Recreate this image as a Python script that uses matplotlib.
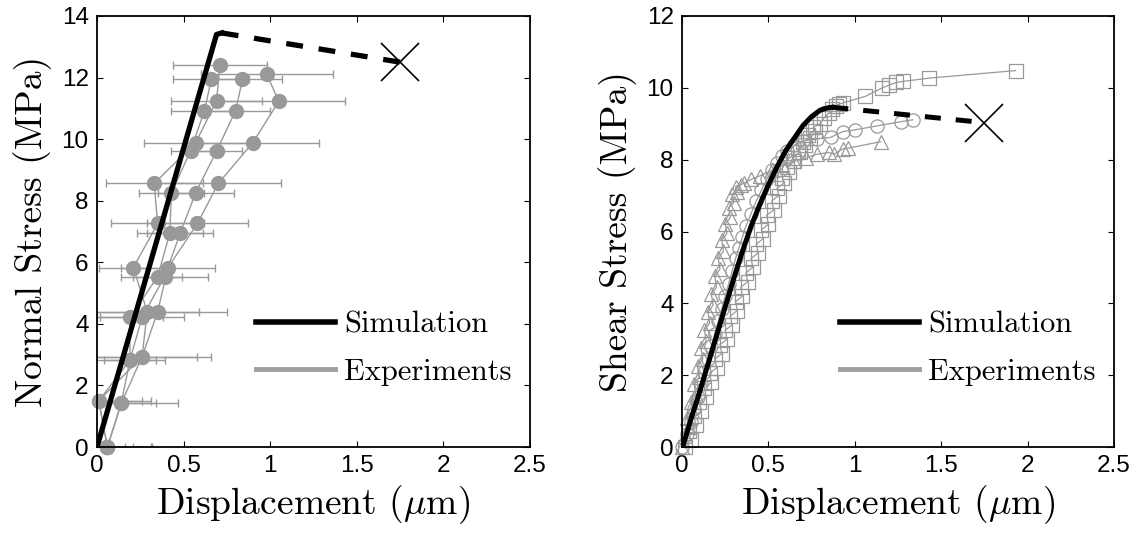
import matplotlib
matplotlib.use("Agg")
import matplotlib.pyplot as plt
from matplotlib.lines import Line2D

# ---------------- data ----------------
# Left panel: normal loading, four specimens (displacement um, stress MPa, half-width of error bar um)
nA_s = [0.00, 1.50, 2.93, 4.39, 5.83, 7.26, 8.56, 9.89, 11.24, 12.40]
nA_d = [0.06, 0.01, 0.26, 0.29, 0.21, 0.35, 0.33, 0.57, 0.69, 0.71]
nA_e = [0.25, 0.30, 0.32, 0.30, 0.20, 0.27, 0.28, 0.30, 0.26, 0.27]

nB_s = [0.00, 1.42, 2.93, 4.39, 5.83, 7.26, 8.56, 9.89, 11.23, 12.10]
nB_d = [0.06, 0.14, 0.26, 0.35, 0.41, 0.58, 0.70, 0.90, 1.05, 0.98]
nB_e = [0.26, 0.33, 0.40, 0.40, 0.27, 0.29, 0.36, 0.38, 0.38, 0.38]

nC_s = [0.00, 1.42, 2.82, 4.21, 5.53, 6.94, 8.26, 9.61, 10.92, 11.94]
nC_d = [0.06, 0.14, 0.19, 0.26, 0.39, 0.48, 0.57, 0.69, 0.80, 0.84]
nC_e = [0.10, 0.20, 0.20, 0.24, 0.25, 0.19, 0.22, 0.15, 0.20, 0.23]

nD_s = [0.00, 1.50, 2.82, 4.21, 5.53, 6.94, 8.26, 9.62, 10.92, 11.94]
nD_d = [0.06, 0.01, 0.19, 0.19, 0.35, 0.42, 0.43, 0.54, 0.62, 0.66]
nD_e = [0.15, 0.25, 0.15, 0.19, 0.14, 0.19, 0.19, 0.11, 0.19, 0.22]

# Left panel simulation
simN_d = [0.00, 0.69, 0.72]
simN_s = [0.00, 13.40, 13.45]
simN_fail_d = [0.72, 1.75]
simN_fail_s = [13.45, 12.50]

# Right panel: shear loading, three tests
tri_d = [0.00, 0.02, 0.04, 0.03, 0.06, 0.05, 0.08, 0.07, 0.10, 0.09, 0.12, 0.11, 0.14, 0.13,
         0.16, 0.15, 0.18, 0.17, 0.20, 0.19, 0.22, 0.21, 0.24, 0.23, 0.26, 0.25, 0.28, 0.27,
         0.30, 0.29, 0.32, 0.31, 0.34, 0.36, 0.40, 0.45, 0.52, 0.58, 0.65, 0.72, 0.78, 0.85,
         0.88, 0.93, 0.96, 1.15]
tri_s = [0.00, 0.30, 0.55, 0.80, 1.00, 1.25, 1.45, 1.75, 1.95, 2.25, 2.45, 2.75, 2.95, 3.25,
         3.45, 3.75, 3.95, 4.25, 4.45, 4.75, 4.95, 5.25, 5.45, 5.75, 5.95, 6.20, 6.40, 6.65,
         6.80, 7.05, 7.10, 7.25, 7.30, 7.35, 7.45, 7.55, 7.70, 7.85, 7.95, 8.05, 8.15, 8.20,
         8.15, 8.30, 8.32, 8.50]

cir_d = [0.00, 0.03, 0.05, 0.07, 0.09, 0.11, 0.13, 0.15, 0.17, 0.19, 0.21, 0.23, 0.25, 0.27,
         0.29, 0.31, 0.33, 0.35, 0.37, 0.40, 0.43, 0.46, 0.49, 0.52, 0.55, 0.58, 0.61, 0.65,
         0.70, 0.78, 0.86, 0.93, 1.00, 1.13, 1.27, 1.335]
cir_s = [0.00, 0.35, 0.70, 1.05, 1.40, 1.75, 2.10, 2.45, 2.80, 3.15, 3.50, 3.85, 4.20, 4.55,
         4.90, 5.25, 5.55, 5.85, 6.15, 6.50, 6.85, 7.15, 7.45, 7.70, 7.90, 8.10, 8.25, 8.40,
         8.52, 8.58, 8.62, 8.78, 8.83, 8.94, 9.06, 9.11]

sq_d = [0.02, 0.05, 0.04, 0.08, 0.07, 0.11, 0.10, 0.14, 0.13, 0.17, 0.16, 0.20, 0.19, 0.23,
        0.22, 0.26, 0.25, 0.29, 0.28, 0.32, 0.31, 0.35, 0.34, 0.38, 0.37, 0.41, 0.40, 0.44,
        0.43, 0.47, 0.46, 0.50, 0.49, 0.53, 0.52, 0.56, 0.55, 0.59, 0.58, 0.62, 0.61, 0.65,
        0.64, 0.68, 0.67, 0.71, 0.70, 0.74, 0.73, 0.77, 0.76, 0.80, 0.82, 0.85, 0.87, 0.89,
        0.91, 0.93, 1.06, 1.155, 1.20, 1.24, 1.28, 1.43, 1.93]
sq_s = [0.00, 0.20, 0.45, 0.60, 0.85, 1.00, 1.25, 1.40, 1.65, 1.80, 2.05, 2.20, 2.45, 2.60,
        2.85, 3.00, 3.25, 3.40, 3.65, 3.80, 4.05, 4.20, 4.45, 4.60, 4.85, 5.00, 5.25, 5.40,
        5.65, 5.80, 6.05, 6.20, 6.45, 6.60, 6.85, 7.00, 7.20, 7.35, 7.50, 7.65, 7.80, 7.95,
        8.05, 8.20, 8.30, 8.40, 8.50, 8.60, 8.70, 8.80, 8.90, 9.00, 9.15, 9.30, 9.40, 9.50,
        9.55, 9.58, 9.76, 9.99, 10.08, 10.15, 10.18, 10.27, 10.48]

# Right panel simulation
simS_d = [0.01, 0.05, 0.10, 0.15, 0.20, 0.25, 0.30, 0.35, 0.40, 0.45, 0.50, 0.55, 0.60,
          0.65, 0.70, 0.75, 0.80, 0.85, 0.87]
simS_s = [0.10, 0.75, 1.50, 2.30, 3.10, 3.90, 4.70, 5.45, 6.15, 6.75, 7.30, 7.80, 8.25,
          8.60, 8.95, 9.20, 9.38, 9.45, 9.46]
simS_fail_d = [0.87, 1.75]
simS_fail_s = [9.46, 9.03]

xticks = [0, 0.5, 1, 1.5, 2, 2.5]
xticklabels = ["0", "0.5", "1", "1.5", "2", "2.5"]
yticksN = [0, 2, 4, 6, 8, 10, 12, 14]
yticksS = [0, 2, 4, 6, 8, 10, 12]
legend_labels = ["Simulation", "Experiments"]

# ---------------- style ----------------
plt.rcParams["mathtext.fontset"] = "cm"
plt.rcParams["axes.unicode_minus"] = False
GRAY = "#999999"
LGRAY = "#a0a0a0"
LABEL_FONT = dict(family="cmr10", size=27)
TICK_FONT = "Liberation Sans"

fig = plt.figure(figsize=(11.4, 5.35), dpi=100)
axL = fig.add_axes([97 / 1140, 88 / 535, 433 / 1140, 431 / 535])
axR = fig.add_axes([682 / 1140, 88 / 535, 432 / 1140, 431 / 535])


def style_axes(ax, yticks, ylim):
    ax.set_xlim(0, 2.5)
    ax.set_ylim(*ylim)
    ax.set_xticks(xticks)
    ax.set_xticklabels(xticklabels)
    ax.set_yticks(yticks)
    ax.set_yticklabels([str(v) for v in yticks])
    ax.tick_params(direction="in", top=True, right=True, length=4, width=0.8,
                   labelsize=17.5, pad=6)
    for lab in ax.get_xticklabels() + ax.get_yticklabels():
        lab.set_family(TICK_FONT)
    for sp in ax.spines.values():
        sp.set_linewidth(1.3)
    ax.set_xlabel(r"Displacement ($\mu$m)", fontdict=LABEL_FONT, labelpad=4)


# ---- left panel ----
for d, s, e in [(nA_d, nA_s, nA_e), (nB_d, nB_s, nB_e), (nC_d, nC_s, nC_e), (nD_d, nD_s, nD_e)]:
    axL.errorbar(d, s, xerr=e, fmt="none", ecolor=GRAY, elinewidth=1.0,
                 capsize=3, capthick=1.0, zorder=2)
    axL.plot(d, s, "-o", color=GRAY, markersize=10, markeredgecolor=GRAY,
             markerfacecolor=GRAY, linewidth=1.0, clip_on=False, zorder=2)
axL.plot(simN_d, simN_s, color="black", lw=3.8, solid_joinstyle="round", zorder=4)
axL.plot(simN_fail_d, simN_fail_s, color="black", lw=3.8, linestyle=(0, (3.2, 3.0)), zorder=4)
axL.plot([simN_fail_d[-1]], [simN_fail_s[-1]], marker="x", color="black",
         markersize=28, markeredgewidth=1.2, zorder=5)
style_axes(axL, yticksN, (0, 14))
axL.set_ylabel("Normal Stress (MPa)", fontdict=LABEL_FONT, labelpad=7)

# ---- right panel ----
common = dict(color=GRAY, markerfacecolor="none", markeredgecolor=GRAY, markeredgewidth=0.9,
              markersize=9.5, linewidth=0.9, clip_on=False, zorder=2)
axR.plot(sq_d, sq_s, marker="s", **common)
axR.plot(cir_d, cir_s, marker="o", **common)
axR.plot(tri_d, tri_s, marker="^", **common)
axR.plot(simS_d, simS_s, color="black", lw=3.6, solid_joinstyle="round", zorder=4)
axR.plot(simS_fail_d, simS_fail_s, color="black", lw=3.6, linestyle=(0, (3.2, 3.0)), zorder=4)
axR.plot([simS_fail_d[-1]], [simS_fail_s[-1]], marker="x", color="black",
         markersize=28, markeredgewidth=1.2, zorder=5)
style_axes(axR, yticksS, (0, 12))
axR.set_ylabel("Shear Stress (MPa)", fontdict=LABEL_FONT, labelpad=7)

# ---- legends ----
handles = [Line2D([], [], color="black", lw=4.0), Line2D([], [], color=LGRAY, lw=3.5)]
for ax in (axL, axR):
    ax.legend(handles, legend_labels, loc="lower right", bbox_to_anchor=(1.0, 0.10),
              frameon=False, prop=dict(family="cmr10", size=22), handlelength=2.6,
              handletextpad=0.3, labelspacing=0.65, borderaxespad=0.2)

fig.savefig("out.png", dpi=100)
